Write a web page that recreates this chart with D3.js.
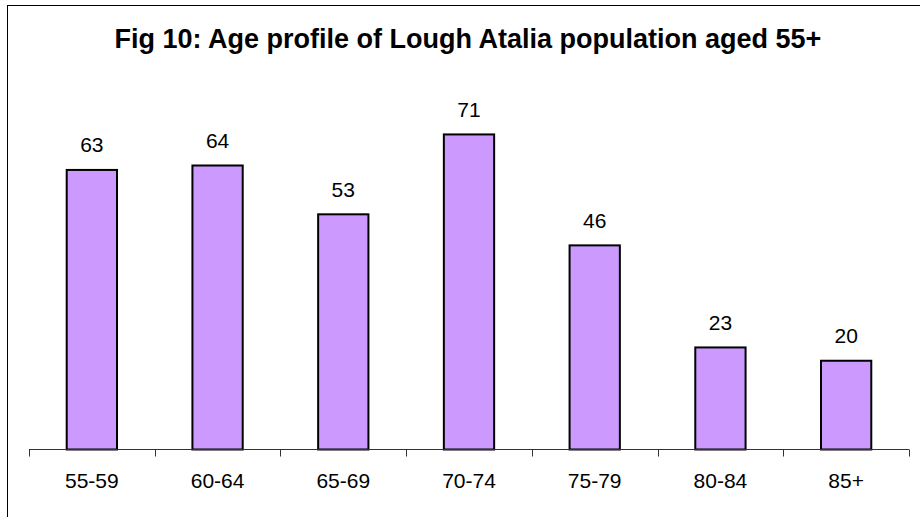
<!DOCTYPE html>
<html>
<head>
<meta charset="utf-8">
<script src="https://cdn.jsdelivr.net/npm/d3@7"></script>
<style>
  html, body { margin: 0; padding: 0; background: #fff; }
  svg text { font-family: "Liberation Sans", Arial, sans-serif; fill: #000; }
</style>
</head>
<body>
<svg id="chart"></svg>
<script>
var categories = ["55-59", "60-64", "65-69", "70-74", "75-79", "80-84", "85+"];
var values = [63, 64, 53, 71, 46, 23, 20];
var title = "Fig 10: Age profile of Lough Atalia population aged 55+";

var width = 920, height = 517;
var svg = d3.select("#chart").attr("width", width).attr("height", height);

// outer frame (right and bottom edges fall outside the picture)
svg.append("rect")
  .attr("x", 7.5).attr("y", 5.5)
  .attr("width", 940).attr("height", 540)
  .attr("fill", "none").attr("stroke", "#000").attr("stroke-width", 1);

svg.append("text")
  .attr("x", 468).attr("y", 48)
  .attr("text-anchor", "middle")
  .attr("font-size", "27px").attr("font-weight", "bold")
  .text(title);

var x = d3.scaleBand().domain(categories).range([29, 909]).padding(0);
var y = d3.scaleLinear().domain([0, 80]).range([449.5, 94.5]);
var barW = x.bandwidth() * 0.4;

svg.selectAll("rect.bar")
  .data(values)
  .enter().append("rect")
  .attr("class", "bar")
  .attr("x", function (d, i) { return x(categories[i]) + (x.bandwidth() - barW) / 2; })
  .attr("y", function (d) { return y(d); })
  .attr("width", barW)
  .attr("height", function (d) { return y(0) - y(d); })
  .attr("fill", "#CC99FF")
  .attr("stroke", "#000")
  .attr("stroke-width", 2);

svg.selectAll("text.val")
  .data(values)
  .enter().append("text")
  .attr("class", "val")
  .attr("x", function (d, i) { return x(categories[i]) + x.bandwidth() / 2; })
  .attr("y", function (d) { return y(d) - 17.5; })
  .attr("text-anchor", "middle")
  .attr("font-size", "21px")
  .text(function (d) { return d; });

// category axis: line with ticks on the band edges
var axis = svg.append("g");
axis.append("line")
  .attr("x1", x.range()[0]).attr("x2", x.range()[1])
  .attr("y1", y(0)).attr("y2", y(0))
  .attr("stroke", "#333").attr("stroke-width", 1);
var edges = categories.map(function (c) { return x(c); }).concat([x.range()[1]]);
axis.selectAll("line.tick")
  .data(edges)
  .enter().append("line")
  .attr("class", "tick")
  .attr("x1", function (d) { return Math.round(d) + 0.5; })
  .attr("x2", function (d) { return Math.round(d) + 0.5; })
  .attr("y1", y(0)).attr("y2", y(0) + 7)
  .attr("stroke", "#333").attr("stroke-width", 1);
axis.selectAll("text")
  .data(categories)
  .enter().append("text")
  .attr("x", function (d) { return x(d) + x.bandwidth() / 2; })
  .attr("y", 488)
  .attr("text-anchor", "middle")
  .attr("font-size", "21px")
  .text(function (d) { return d; });
</script>
</body>
</html>
